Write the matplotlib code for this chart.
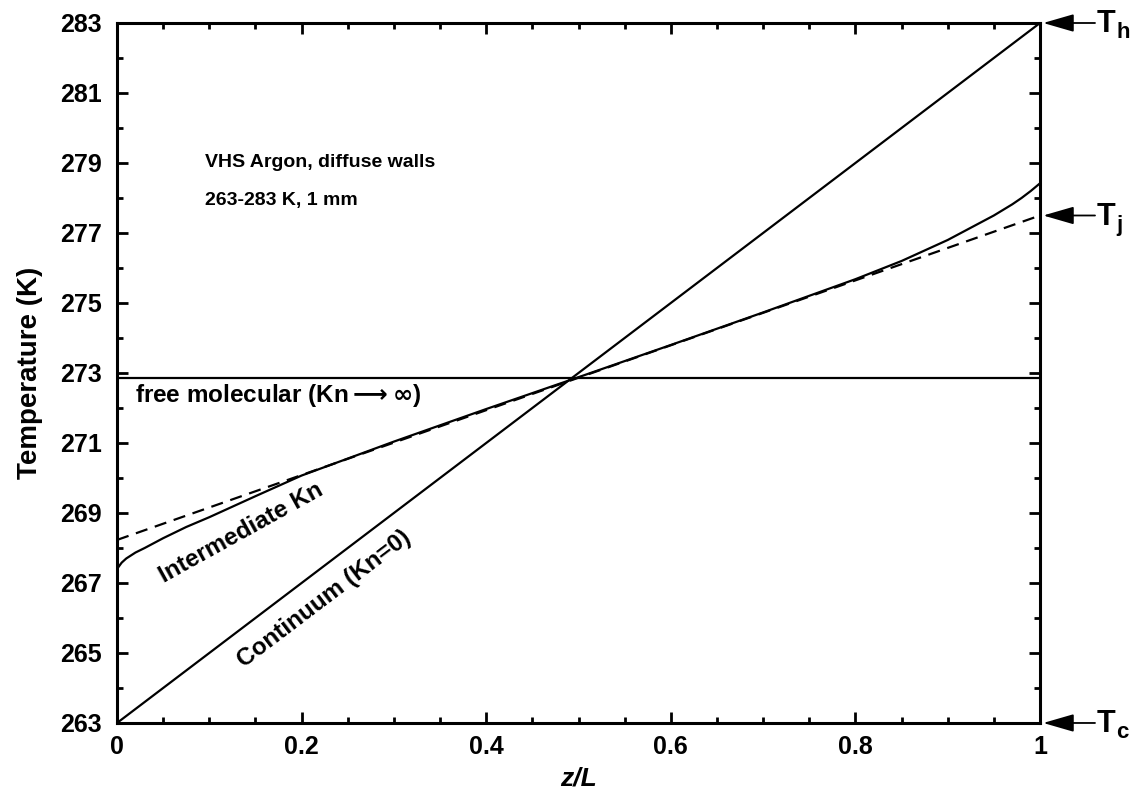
import matplotlib
matplotlib.use("Agg")
import matplotlib.pyplot as plt
from matplotlib.ticker import MultipleLocator
import matplotlib.transforms as mtransforms

plt.rcParams['font.family'] = ['Liberation Sans', 'DejaVu Sans']
plt.rcParams['font.weight'] = 'bold'

# wall temperatures
t_cold = 263.0
t_hot = 283.0
t_jump = 277.5

# continuum (Kn=0) and free molecular (Kn -> inf)
z_cont = [0.0, 1.0]
T_cont = [263.0, 283.0]
z_free = [0.0, 1.0]
T_free = [272.86, 272.86]

# intermediate Kn (DSMC) profile
z_int = [0.0, 0.005, 0.01, 0.02, 0.03, 0.05, 0.075, 0.1, 0.15, 0.2, 0.3, 0.4,
         0.5, 0.6, 0.7, 0.8, 0.85, 0.9, 0.93, 0.95, 0.97, 0.98, 0.99, 1.0]
T_int = [267.40, 267.58, 267.70, 267.87, 268.00, 268.28, 268.60, 268.88,
         269.48, 270.07, 271.04, 271.97, 272.88, 273.80, 274.73, 275.68,
         276.20, 276.80, 277.22, 277.50, 277.82, 278.00, 278.20, 278.42]

# linear fit through the bulk
z_fit = [0.0, 1.0]
T_fit = [268.23, 277.50]

fig = plt.figure(figsize=(11.35, 7.93), dpi=100)
ax = fig.add_axes([0.1031, 0.0883, 0.8132, 0.8827])

ax.plot(z_cont, T_cont, color='k', lw=1.6)
ax.plot(z_free, T_free, color='k', lw=1.6)
ax.plot(z_int, T_int, color='k', lw=1.6)
ax.plot(z_fit, T_fit, color='k', lw=1.6, dashes=(5.5, 3.5))

ax.set_xlim(0, 1)
ax.set_ylim(263, 283)
ax.xaxis.set_minor_locator(MultipleLocator(0.05))
ax.yaxis.set_minor_locator(MultipleLocator(1))
ax.set_xticks([0, 0.2, 0.4, 0.6, 0.8, 1.0])
ax.set_xticklabels(['0', '0.2', '0.4', '0.6', '0.8', '1'])
ax.set_yticks(list(range(263, 284, 2)))

for s in ax.spines.values():
    s.set_linewidth(2.2)
ax.tick_params(which='both', direction='in', top=True, right=True, width=2.0)
ax.tick_params(which='major', length=8, labelsize=18, pad=9)
ax.tick_params(axis='y', which='major', pad=11)
ax.tick_params(which='minor', length=4.5)
for lab in ax.get_xticklabels() + ax.get_yticklabels():
    lab.set_fontweight('bold')

ax.set_ylabel('Temperature (K)', fontsize=20, fontweight='bold', labelpad=12)
ax.set_xlabel('z/L', fontsize=19, fontweight='bold', style='italic', labelpad=5)

ax.text(0.0953, 279.0, 'VHS Argon, diffuse walls', fontsize=14, va='center')
ax.text(0.0953, 277.94, '263-283 K, 1 mm', fontsize=14, va='center')
ax.text(0.0195, 272.17, 'free molecular (Kn$\\longrightarrow\\infty$)', fontsize=17.5,
        va='baseline')
ax.text(0.134, 268.43, 'Intermediate Kn', fontsize=17.5, rotation=29,
        ha='center', va='center', rotation_mode='anchor')
ax.text(0.224, 266.55, 'Continuum (Kn=0)', fontsize=17.5, rotation=37.2,
        ha='center', va='center', rotation_mode='anchor')

# wall temperature markers outside the right axis
trans = mtransforms.blended_transform_factory(ax.transAxes, ax.transData)
for tv, sub in [(t_hot, 'h'), (t_jump, 'j'), (t_cold, 'c')]:
    ax.annotate('', xy=(1.0035, tv), xytext=(1.0596, tv), xycoords=trans,
                textcoords=trans, annotation_clip=False,
                arrowprops=dict(arrowstyle='-|>,head_length=1.9,head_width=0.55',
                                color='k', lw=1.3, shrinkA=0, shrinkB=0))
    ax.annotate('T', xy=(1.0617, tv), xycoords=trans, xytext=(0, -6.5),
                textcoords='offset points', fontsize=22, fontweight='bold',
                va='baseline', ha='left', annotation_clip=False)
    ax.annotate(sub, xy=(1.0617, tv), xycoords=trans, xytext=(14, -11),
                textcoords='offset points', fontsize=16, fontweight='bold',
                va='baseline', ha='left', annotation_clip=False)

fig.savefig('out.png', dpi=100)
